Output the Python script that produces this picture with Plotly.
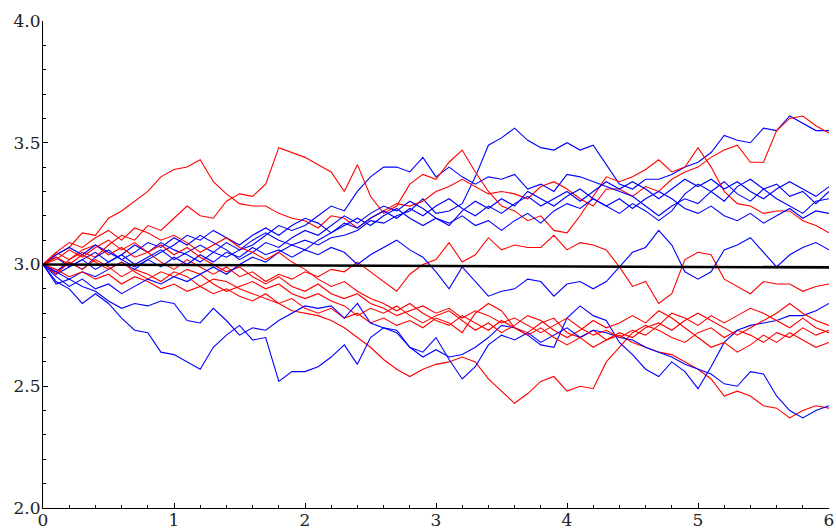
import plotly.graph_objects as go

# time grid (x values)
T = [0.0, 0.1, 0.2, 0.3, 0.4, 0.5, 0.6, 0.7, 0.8, 0.9,
     1.0, 1.1, 1.2, 1.3, 1.4, 1.5, 1.6, 1.7, 1.8, 1.9,
     2.0, 2.1, 2.2, 2.3, 2.4, 2.5, 2.6, 2.7, 2.8, 2.9,
     3.0, 3.1, 3.2, 3.3, 3.4, 3.5, 3.6, 3.7, 3.8, 3.9,
     4.0, 4.1, 4.2, 4.3, 4.4, 4.5, 4.6, 4.7, 4.8, 4.9,
     5.0, 5.1, 5.2, 5.3, 5.4, 5.5, 5.6, 5.7, 5.8, 5.9,
     6.0]

# red sample paths
red_1 = [3.00, 3.04, 3.07, 3.13, 3.12, 3.19, 3.22, 3.26, 3.30, 3.36,
         3.39, 3.40, 3.43, 3.34, 3.29, 3.25, 3.24, 3.24, 3.21, 3.19,
         3.18, 3.15, 3.20, 3.19, 3.15, 3.19, 3.22, 3.25, 3.24, 3.26,
         3.30, 3.32, 3.35, 3.32, 3.29, 3.30, 3.29, 3.27, 3.32, 3.34,
         3.31, 3.27, 3.24, 3.31, 3.31, 3.28, 3.32, 3.30, 3.35, 3.38,
         3.40, 3.44, 3.47, 3.49, 3.42, 3.42, 3.55, 3.60, 3.61, 3.57,
         3.54]
red_2 = [3.00, 2.97, 3.02, 3.05, 3.03, 3.08, 3.12, 3.10, 3.16, 3.14,
         3.19, 3.24, 3.20, 3.19, 3.26, 3.29, 3.28, 3.33, 3.48, 3.46,
         3.44, 3.41, 3.38, 3.30, 3.41, 3.28, 3.21, 3.24, 3.33, 3.37,
         3.35, 3.42, 3.47, 3.38, 3.30, 3.24, 3.22, 3.18, 3.20, 3.14,
         3.13, 3.20, 3.28, 3.36, 3.34, 3.36, 3.39, 3.43, 3.38, 3.40,
         3.48, 3.40, 3.30, 3.25, 3.24, 3.21, 3.22, 3.22, 3.18, 3.16,
         3.13]
red_3 = [3.00, 3.05, 3.02, 3.06, 3.08, 3.04, 3.07, 3.03, 3.05, 3.01,
         2.98, 3.02, 2.99, 2.96, 2.99, 2.95, 2.97, 2.93, 2.96, 2.94,
         2.97, 2.95, 2.98, 2.97, 3.01, 2.97, 2.93, 2.89, 2.96, 3.00,
         3.02, 3.09, 3.01, 3.04, 3.11, 3.06, 3.08, 3.07, 3.07, 3.12,
         3.06, 3.09, 3.08, 3.06, 2.99, 2.91, 2.93, 2.84, 2.88, 3.02,
         3.05, 3.04, 2.94, 2.91, 2.88, 2.93, 2.92, 2.92, 2.89, 2.91,
         2.92]
red_4 = [3.00, 2.96, 3.01, 2.98, 3.02, 2.99, 2.95, 2.98, 2.96, 2.93,
         2.97, 2.95, 2.91, 2.94, 2.93, 2.90, 2.88, 2.86, 2.84, 2.81,
         2.80, 2.79, 2.77, 2.74, 2.70, 2.66, 2.61, 2.57, 2.54, 2.57,
         2.59, 2.60, 2.62, 2.60, 2.53, 2.48, 2.43, 2.47, 2.52, 2.54,
         2.48, 2.50, 2.49, 2.60, 2.66, 2.72, 2.75, 2.73, 2.70, 2.68,
         2.72, 2.74, 2.70, 2.73, 2.71, 2.68, 2.72, 2.70, 2.74, 2.71,
         2.73]
red_5 = [3.00, 2.98, 2.95, 2.97, 2.94, 2.96, 2.92, 2.95, 2.93, 2.90,
         2.92, 2.89, 2.91, 2.88, 2.90, 2.87, 2.85, 2.88, 2.84, 2.86,
         2.82, 2.80, 2.82, 2.78, 2.80, 2.76, 2.78, 2.75, 2.77, 2.74,
         2.78, 2.76, 2.72, 2.80, 2.84, 2.81, 2.74, 2.72, 2.76, 2.78,
         2.72, 2.70, 2.73, 2.69, 2.71, 2.68, 2.66, 2.64, 2.63, 2.60,
         2.57, 2.53, 2.46, 2.48, 2.46, 2.42, 2.41, 2.37, 2.40, 2.42,
         2.41]
red_6 = [3.00, 3.03, 3.00, 3.04, 3.01, 2.98, 3.01, 2.97, 2.94, 2.97,
         2.95, 2.98, 2.96, 2.92, 2.89, 2.91, 2.93, 2.90, 2.92, 2.88,
         2.86, 2.88, 2.85, 2.83, 2.79, 2.82, 2.80, 2.83, 2.79, 2.76,
         2.79, 2.81, 2.77, 2.73, 2.76, 2.72, 2.75, 2.79, 2.77, 2.73,
         2.70, 2.73, 2.77, 2.74, 2.76, 2.79, 2.76, 2.81, 2.78, 2.74,
         2.70, 2.66, 2.68, 2.64, 2.67, 2.71, 2.68, 2.72, 2.69, 2.66,
         2.68]
red_7 = [3.00, 3.02, 3.06, 3.03, 3.07, 3.10, 3.06, 3.09, 3.05, 3.08,
         3.04, 3.07, 3.03, 3.00, 2.97, 2.99, 2.95, 2.92, 2.95, 2.91,
         2.89, 2.92, 2.88, 2.86, 2.88, 2.84, 2.82, 2.79, 2.81, 2.83,
         2.80, 2.82, 2.78, 2.81, 2.79, 2.76, 2.78, 2.75, 2.72, 2.75,
         2.78, 2.74, 2.71, 2.73, 2.70, 2.73, 2.71, 2.75, 2.80, 2.78,
         2.75, 2.79, 2.76, 2.79, 2.82, 2.80, 2.77, 2.74, 2.78, 2.74,
         2.72]
red_8 = [3.00, 3.05, 3.09, 3.07, 3.11, 3.14, 3.10, 3.15, 3.13, 3.10,
         3.12, 3.09, 3.05, 3.08, 3.11, 3.07, 3.05, 3.02, 3.05, 3.01,
         2.98, 2.94, 2.91, 2.93, 2.89, 2.86, 2.84, 2.81, 2.84, 2.80,
         2.77, 2.75, 2.79, 2.76, 2.73, 2.77, 2.74, 2.71, 2.74, 2.70,
         2.67, 2.70, 2.66, 2.69, 2.72, 2.70, 2.74, 2.76, 2.73, 2.77,
         2.80, 2.77, 2.74, 2.71, 2.74, 2.77, 2.80, 2.84, 2.80, 2.77,
         2.75]

# blue sample paths
blue_1 = [3.00, 2.96, 2.99, 3.02, 2.98, 3.01, 3.04, 3.00, 3.03, 3.06,
          3.02, 3.05, 3.08, 3.05, 3.09, 3.06, 3.10, 3.13, 3.10, 3.08,
          3.10, 3.08, 3.11, 3.12, 3.14, 3.18, 3.17, 3.20, 3.22, 3.27,
          3.21, 3.22, 3.25, 3.36, 3.49, 3.52, 3.56, 3.51, 3.48, 3.47,
          3.50, 3.47, 3.49, 3.41, 3.33, 3.31, 3.35, 3.35, 3.37, 3.40,
          3.42, 3.46, 3.53, 3.51, 3.50, 3.56, 3.55, 3.61, 3.58, 3.55,
          3.55]
blue_2 = [3.00, 3.03, 2.99, 3.02, 3.05, 3.01, 3.04, 3.08, 3.05, 3.09,
          3.06, 3.04, 3.01, 3.05, 3.03, 3.06, 3.08, 3.12, 3.16, 3.14,
          3.16, 3.20, 3.24, 3.22, 3.30, 3.36, 3.40, 3.40, 3.38, 3.44,
          3.36, 3.40, 3.36, 3.33, 3.36, 3.35, 3.37, 3.31, 3.33, 3.30,
          3.37, 3.36, 3.34, 3.32, 3.30, 3.28, 3.24, 3.20, 3.24, 3.27,
          3.25, 3.30, 3.34, 3.29, 3.26, 3.31, 3.33, 3.28, 3.30, 3.25,
          3.30]
blue_3 = [3.00, 2.97, 3.01, 2.98, 3.03, 3.06, 3.02, 3.05, 3.09, 3.07,
          3.11, 3.08, 3.12, 3.09, 3.06, 3.02, 3.05, 3.09, 3.07, 3.11,
          3.14, 3.12, 3.16, 3.20, 3.17, 3.21, 3.24, 3.22, 3.26, 3.23,
          3.19, 3.17, 3.20, 3.16, 3.18, 3.14, 3.18, 3.21, 3.17, 3.22,
          3.25, 3.23, 3.27, 3.24, 3.21, 3.25, 3.22, 3.18, 3.22, 3.29,
          3.33, 3.30, 3.26, 3.32, 3.35, 3.31, 3.27, 3.24, 3.21, 3.26,
          3.27]
blue_4 = [3.00, 3.04, 3.07, 3.04, 3.08, 3.05, 3.02, 2.99, 3.02, 3.05,
          3.08, 3.12, 3.10, 3.14, 3.11, 3.08, 3.12, 3.15, 3.12, 3.16,
          3.19, 3.17, 3.13, 3.16, 3.19, 3.16, 3.20, 3.23, 3.19, 3.16,
          3.19, 3.16, 3.22, 3.26, 3.23, 3.27, 3.24, 3.30, 3.27, 3.24,
          3.28, 3.31, 3.27, 3.24, 3.27, 3.23, 3.27, 3.30, 3.27, 3.23,
          3.21, 3.24, 3.20, 3.18, 3.21, 3.17, 3.20, 3.23, 3.19, 3.22,
          3.21]
blue_5 = [3.00, 2.97, 2.94, 2.97, 2.95, 2.98, 3.01, 2.98, 3.02, 2.99,
          3.03, 3.00, 3.04, 3.01, 3.05, 3.03, 3.07, 3.04, 3.06, 3.03,
          3.06, 3.04, 3.07, 3.05, 3.00, 3.04, 3.07, 3.10, 3.06, 3.03,
          2.97, 2.90, 2.99, 2.93, 2.87, 2.89, 2.90, 2.94, 2.93, 2.87,
          2.92, 2.93, 2.90, 2.93, 2.99, 3.05, 3.07, 3.14, 3.08, 2.97,
          2.94, 2.97, 3.06, 3.08, 3.11, 3.05, 2.99, 3.04, 3.07, 3.09,
          3.06]
blue_6 = [3.00, 2.93, 2.90, 2.84, 2.88, 2.84, 2.78, 2.73, 2.72, 2.64,
          2.63, 2.60, 2.57, 2.66, 2.71, 2.75, 2.69, 2.70, 2.52, 2.56,
          2.56, 2.58, 2.62, 2.67, 2.59, 2.70, 2.74, 2.73, 2.66, 2.62,
          2.65, 2.62, 2.63, 2.66, 2.70, 2.75, 2.74, 2.71, 2.67, 2.66,
          2.78, 2.83, 2.79, 2.77, 2.68, 2.63, 2.57, 2.54, 2.60, 2.56,
          2.49, 2.58, 2.68, 2.73, 2.75, 2.76, 2.77, 2.79, 2.79, 2.81,
          2.84]
blue_7 = [3.00, 2.92, 2.94, 2.91, 2.89, 2.85, 2.82, 2.84, 2.83, 2.85,
          2.84, 2.77, 2.76, 2.82, 2.77, 2.71, 2.74, 2.73, 2.77, 2.80,
          2.83, 2.82, 2.83, 2.78, 2.84, 2.76, 2.74, 2.72, 2.66, 2.64,
          2.70, 2.61, 2.53, 2.58, 2.67, 2.71, 2.69, 2.72, 2.68, 2.71,
          2.74, 2.70, 2.73, 2.72, 2.70, 2.69, 2.66, 2.64, 2.62, 2.59,
          2.57, 2.55, 2.51, 2.50, 2.56, 2.55, 2.46, 2.40, 2.37, 2.40,
          2.42]
blue_8 = [3.00, 2.95, 2.91, 2.94, 2.90, 2.92, 2.88, 2.91, 2.94, 2.92,
          2.95, 2.93, 2.96, 2.99, 2.96, 3.00, 3.03, 3.01, 3.05, 3.08,
          3.06, 3.10, 3.13, 3.17, 3.15, 3.19, 3.22, 3.19, 3.23, 3.20,
          3.24, 3.27, 3.23, 3.20, 3.24, 3.21, 3.25, 3.28, 3.24, 3.27,
          3.30, 3.26, 3.30, 3.34, 3.31, 3.34, 3.31, 3.27, 3.31, 3.35,
          3.32, 3.35, 3.31, 3.34, 3.30, 3.27, 3.31, 3.34, 3.31, 3.28,
          3.32]

# mean curve
mean_t = [0.0, 6.0]
mean_y = [3.0, 2.988]

reds = [red_1, red_2, red_3, red_4, red_5, red_6, red_7, red_8]
blues = [blue_1, blue_2, blue_3, blue_4, blue_5, blue_6, blue_7, blue_8]

fig = go.Figure()
for i in range(max(len(reds), len(blues))):
    if i < len(blues):
        fig.add_trace(go.Scatter(x=T, y=blues[i], mode="lines",
                                 line=dict(color="#0000ff", width=1.1),
                                 hoverinfo="skip"))
    if i < len(reds):
        fig.add_trace(go.Scatter(x=T, y=reds[i], mode="lines",
                                 line=dict(color="#ff0000", width=1.1),
                                 hoverinfo="skip"))
fig.add_trace(go.Scatter(x=mean_t, y=mean_y, mode="lines",
                         line=dict(color="black", width=2.6),
                         hoverinfo="skip"))

SERIF = "DejaVu Serif"
tick_font = dict(family=SERIF, size=17, color="#222222")
fig.update_layout(
    width=836, height=531,
    margin=dict(l=43, r=7, t=21, b=23, autoexpand=False),
    paper_bgcolor="white", plot_bgcolor="white",
    showlegend=False,
    font=dict(family=SERIF, size=17, color="#222222"),
    xaxis=dict(range=[0, 6], tickvals=[0, 1, 2, 3, 4, 5, 6],
               ticktext=["0", "1", "2", "3", "4", "5", "6"],
               showline=True, linecolor="black", linewidth=1,
               ticks="inside", ticklen=5, tickwidth=1, tickcolor="black",
               minor=dict(ticks="inside", ticklen=3, tickwidth=1,
                          tickcolor="black", dtick=0.2, showgrid=False),
               showgrid=False, zeroline=False, tickfont=tick_font,
               ticklabelstandoff=-3,
               automargin=False),
    yaxis=dict(range=[2, 4], tickvals=[2.0, 2.5, 3.0, 3.5, 4.0],
               ticktext=["2.0", "2.5", "3.0", "3.5", "4.0"],
               showline=True, linecolor="black", linewidth=1,
               ticks="inside", ticklen=5, tickwidth=1, tickcolor="black",
               minor=dict(ticks="inside", ticklen=3, tickwidth=1,
                          tickcolor="black", dtick=0.1, showgrid=False),
               showgrid=False, zeroline=False, tickfont=tick_font,
               ticklabelstandoff=-2,
               automargin=False),
)

fig.write_html("out.html")
